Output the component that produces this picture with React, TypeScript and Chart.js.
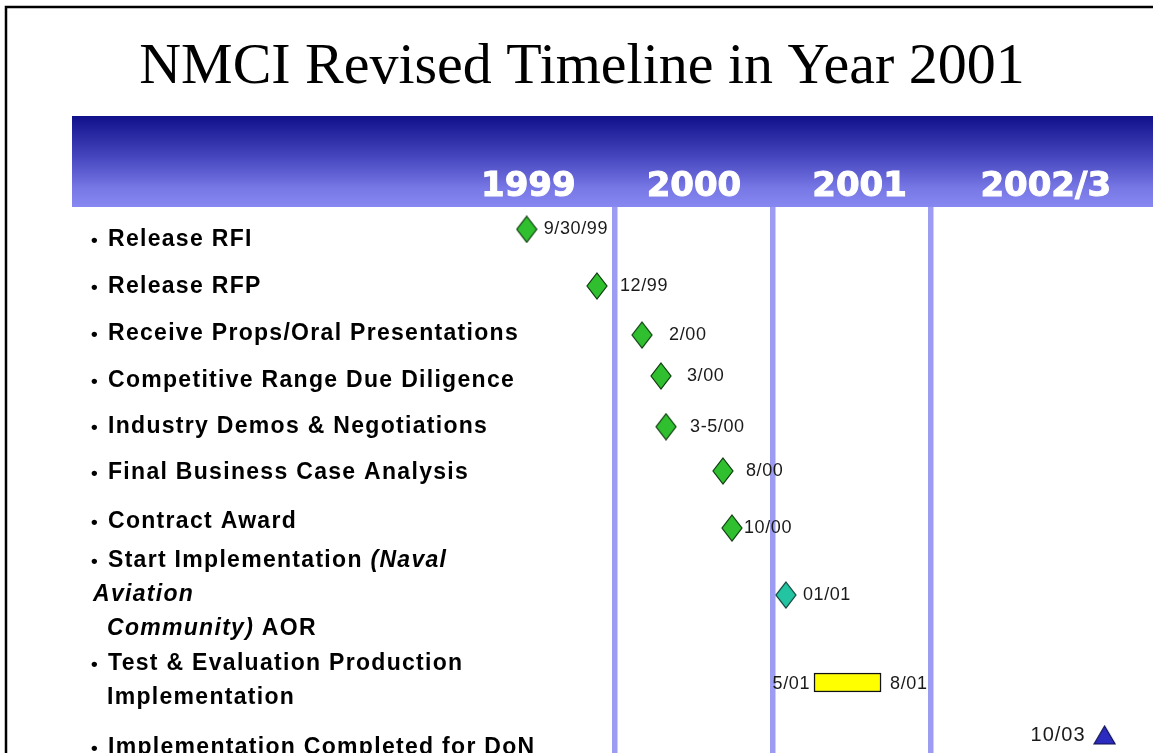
import React, { useEffect, useRef } from 'react';
import { Chart, registerables } from 'chart.js';

Chart.register(...registerables);

// ---------- data ----------
const TITLE = 'NMCI Revised Timeline in Year 2001';

const yearLabels = ['1999', '2000', '2001', '2002/3'];
const yearLabelPositions = [1999.45, 2000.5, 2001.55, 2002.73];
const yearBoundaries = [2000, 2001, 2002];

const taskLines = [
  ['Release RFI'],
  ['Release RFP'],
  ['Receive Props/Oral Presentations'],
  ['Competitive Range Due Diligence'],
  ['Industry Demos & Negotiations'],
  ['Final Business Case Analysis'],
  ['Contract Award'],
  ['Start Implementation (Naval', 'Aviation', ' Community) AOR'],
  ['Test & Evaluation Production', ' Implementation'],
  ['Implementation Completed for DoN'],
];
const taskRows = [0, 0.99, 1.99, 3.0, 3.98, 4.96, 6.0, 7.55, 9.38, 10.8];
const italicWords = ['(Naval', 'Aviation', 'Community)'];

const milestoneLabels = ['9/30/99', '12/99', '2/00', '3/00', '3-5/00', '8/00', '10/00'];
const milestoneDates = [1999.44, 1999.885, 2000.171, 2000.291, 2000.323, 2000.684, 2000.741];
const milestoneRows = [-0.185, 1.021, 2.064, 2.936, 4.015, 4.957, 6.17];

const startLabels = ['01/01'];
const startDates = [2001.083];
const startRows = [7.596];

const phaseStartLabels = ['5/01'];
const phaseEndLabels = ['8/01'];
const phaseStart = [2001.261];
const phaseEnd = [2001.686];
const phaseRows = [9.457];

const completeLabels = ['10/03'];
const completeDates = [2003.103];
const completeRows = [10.574];

// ---------- styles ----------
const X_MIN = 1996.5573;
const X_MAX = 2003.4099;
const Y_MIN = -0.6596;
const Y_MAX = 10.957;
const milestoneLabelDx = [17, 23, 27, 26, 24, 23, 12];
const startLabelDx = [17];
const completeLabelDx = [-19];

function makeDiamond(w: number, h: number, fill: string, stroke: string) {
  const c = document.createElement('canvas');
  c.width = w + 2;
  c.height = h + 2;
  const g = c.getContext('2d')!;
  g.beginPath();
  g.moveTo((w + 2) / 2, 1);
  g.lineTo(w + 1, (h + 2) / 2);
  g.lineTo((w + 2) / 2, h + 1);
  g.lineTo(1, (h + 2) / 2);
  g.closePath();
  g.fillStyle = fill;
  g.fill();
  g.lineWidth = 1.2;
  g.strokeStyle = stroke;
  g.stroke();
  return c;
}

function makeTriangle(w: number, h: number, fill: string, stroke: string) {
  const c = document.createElement('canvas');
  c.width = w + 2;
  c.height = h + 2;
  const g = c.getContext('2d')!;
  g.beginPath();
  g.moveTo((w + 2) / 2, 1);
  g.lineTo(w + 1, h + 1);
  g.lineTo(1, h + 1);
  g.closePath();
  g.fillStyle = fill;
  g.fill();
  g.lineWidth = 1.2;
  g.strokeStyle = stroke;
  g.stroke();
  return c;
}

const LABEL_FONT = '"Liberation Sans", Arial, sans-serif';

const backgroundPlugin = {
  id: 'slideBackground',
  beforeDraw(chart: any) {
    const { ctx, chartArea, width, height } = chart;
    const xs = chart.scales.x;
    const ys = chart.scales.y;
    ctx.save();
    ctx.fillStyle = '#ffffff';
    ctx.fillRect(0, 0, width, height);

    // frame
    ctx.strokeStyle = '#000000';
    ctx.lineWidth = 2.5;
    ctx.beginPath();
    ctx.moveTo(6, height + 5);
    ctx.lineTo(6, 7);
    ctx.lineTo(width + 5, 7);
    ctx.stroke();

    // title
    ctx.save();
    ctx.fillStyle = '#000000';
    ctx.font = '56px "Liberation Serif", "Times New Roman", serif';
    ctx.textAlign = 'center';
    ctx.textBaseline = 'alphabetic';
    ctx.translate(582, 83);
    ctx.scale(1.035, 1);
    ctx.fillText(TITLE, 0, 0);
    ctx.restore();

    // header band
    const bandTop = 116;
    const bandBottom = chartArea.top;
    const grad = ctx.createLinearGradient(0, bandTop, 0, bandBottom);
    grad.addColorStop(0, '#10108a');
    grad.addColorStop(0.45, '#4646bf');
    grad.addColorStop(0.8, '#7878e6');
    grad.addColorStop(1, '#8888f2');
    ctx.fillStyle = grad;
    ctx.fillRect(chartArea.left, bandTop, chartArea.right - chartArea.left, bandBottom - bandTop);

    // year labels
    ctx.fillStyle = '#ffffff';
    ctx.strokeStyle = '#ffffff';
    ctx.lineWidth = 1;
    ctx.font = 'bold 34px "DejaVu Sans", sans-serif';
    ctx.textAlign = 'center';
    ctx.textBaseline = 'middle';
    yearLabels.forEach((t, i) => {
      const x = xs.getPixelForValue(yearLabelPositions[i]);
      ctx.fillText(t, x, 187);
      ctx.strokeText(t, x, 187);
    });

    // task labels
    const lineGap = 34;
    ctx.fillStyle = '#000000';
    ctx.textAlign = 'left';
    ctx.textBaseline = 'middle';
    taskLines.forEach((lines, r) => {
      const cy = ys.getPixelForValue(taskRows[r]) + 2;
      lines.forEach((line, li) => {
        const y = cy + (li - (lines.length - 1) / 2) * lineGap;
        let x: number;
        if (li === 0) {
          ctx.font = `bold 19px ${LABEL_FONT}`;
          (ctx as any).letterSpacing = '0px';
          ctx.fillText('\u2022', 91, y + 1);
          x = 108;
        } else if (line.startsWith(' ')) {
          x = 107;
        } else {
          x = 93;
        }
        (ctx as any).letterSpacing = '1.3px';
        const words = line.trim().split(' ');
        words.forEach((w) => {
          const it = italicWords.includes(w);
          ctx.font = `${it ? 'italic ' : ''}bold 23px ${LABEL_FONT}`;
          ctx.fillText(w, x, y);
          x += ctx.measureText(w).width;
          ctx.font = `bold 23px ${LABEL_FONT}`;
          x += ctx.measureText(' ').width;
        });
      });
    });
    (ctx as any).letterSpacing = '0px';
    ctx.restore();
  },
};

const dateLabelPlugin = {
  id: 'dateLabels',
  afterDatasetsDraw(chart: any) {
    const { ctx } = chart;
    ctx.save();
    ctx.fillStyle = '#1a1a1a';
    ctx.textBaseline = 'middle';
    (ctx as any).letterSpacing = '0.6px';
    ctx.font = `18px ${LABEL_FONT}`;

    ctx.textAlign = 'left';
    chart.getDatasetMeta(0).data.forEach((p: any, i: number) => {
      ctx.fillText(milestoneLabels[i], p.x + milestoneLabelDx[i], p.y);
    });
    chart.getDatasetMeta(1).data.forEach((p: any, i: number) => {
      ctx.fillText(startLabels[i], p.x + startLabelDx[i], p.y);
    });
    chart.getDatasetMeta(2).data.forEach((b: any, i: number) => {
      const l = Math.min(b.x, b.base);
      const r = Math.max(b.x, b.base);
      ctx.textAlign = 'right';
      ctx.fillText(phaseStartLabels[i], l - 4, b.y + 2);
      ctx.textAlign = 'left';
      ctx.fillText(phaseEndLabels[i], r + 9, b.y + 2);
    });
    ctx.font = `20px ${LABEL_FONT}`;
    (ctx as any).letterSpacing = '1px';
    ctx.textAlign = 'right';
    chart.getDatasetMeta(3).data.forEach((p: any, i: number) => {
      ctx.fillText(completeLabels[i], p.x + completeLabelDx[i], p.y);
    });
    ctx.restore();
  },
};

export default function App() {
  const ref = useRef<HTMLCanvasElement>(null);

  useEffect(() => {
    const canvas = ref.current!;
    const green = makeDiamond(20, 26, '#2fbf2f', '#0c3a0c');
    const teal = makeDiamond(20, 26, '#22c4a2', '#0c3a32');
    const tri = makeTriangle(21, 18, '#2b2bc0', '#101050');

    const chart = new Chart(canvas, {
      type: 'scatter',
      data: {
        datasets: [
          {
            type: 'scatter',
            label: 'Milestones',
            data: milestoneDates.map((x, i) => ({ x, y: milestoneRows[i] })),
            pointStyle: green as any,
            pointRadius: 10,
            pointHoverRadius: 10,
          },
          {
            type: 'scatter',
            label: 'Start Implementation',
            data: startDates.map((x, i) => ({ x, y: startRows[i] })),
            pointStyle: teal as any,
            pointRadius: 10,
            pointHoverRadius: 10,
          },
          {
            type: 'bar',
            label: 'Test & Evaluation',
            indexAxis: 'y',
            data: phaseStart.map((s, i) => ({ x: [s, phaseEnd[i]], y: phaseRows[i] })) as any,
            backgroundColor: '#ffff00',
            borderColor: '#111111',
            borderWidth: 1.5,
            borderSkipped: false,
            barThickness: 19,
          } as any,
          {
            type: 'scatter',
            label: 'Implementation Completed',
            data: completeDates.map((x, i) => ({ x, y: completeRows[i] })),
            pointStyle: tri as any,
            pointRadius: 10,
            pointHoverRadius: 10,
          },
        ],
      },
      options: {
        responsive: false,
        animation: false,
        devicePixelRatio: 1,
        events: [],
        layout: { autoPadding: false, padding: { left: 72, top: 207, right: 0, bottom: 0 } },
        plugins: {
          legend: { display: false },
          tooltip: { enabled: false },
          title: { display: false },
        },
        scales: {
          x: {
            type: 'linear',
            min: X_MIN,
            max: X_MAX,
            bounds: 'data',
            offset: false,
            beginAtZero: false,
            position: 'bottom',
            afterBuildTicks: (s: any) => {
              s.ticks = yearBoundaries.map((v) => ({ value: v }));
            },
            ticks: { display: false },
            grid: { color: '#9c9cf2', lineWidth: 5.5, drawTicks: false, offset: false },
            border: { display: false },
          },
          y: {
            type: 'linear',
            reverse: true,
            min: Y_MIN,
            max: Y_MAX,
            bounds: 'data',
            offset: false,
            display: false,
          },
        },
      } as any,
      plugins: [backgroundPlugin, dateLabelPlugin],
    });
    return () => chart.destroy();
  }, []);

  return (
    <div style={{ position: 'fixed', left: 0, top: 0, width: 1153, height: 753, overflow: 'hidden', background: '#fff' }}>
      <canvas ref={ref} width={1153} height={753} style={{ display: 'block' }} />
    </div>
  );
}
